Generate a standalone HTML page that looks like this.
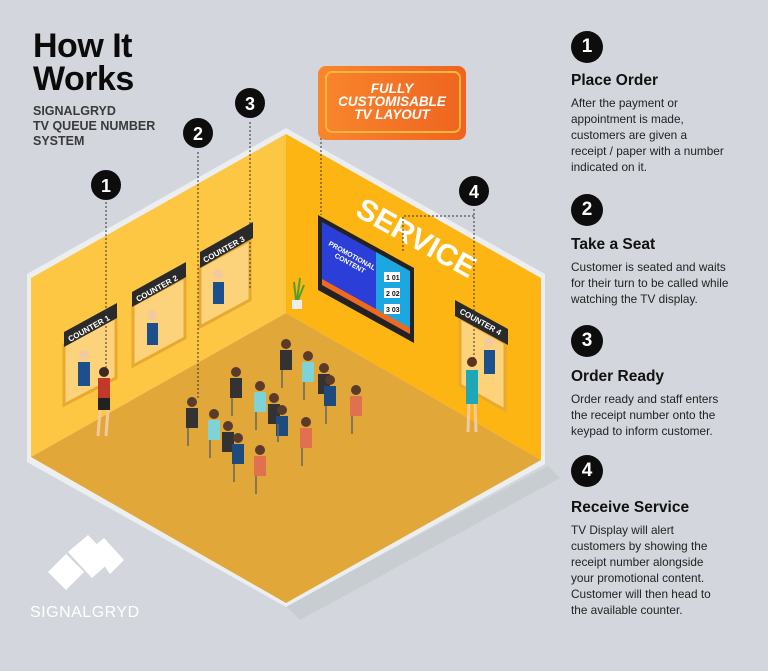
<!DOCTYPE html>
<html><head><meta charset="utf-8"><style>
body{margin:0;width:768px;height:671px;background:#d3d6dc;font-family:"Liberation Sans",Arial,sans-serif;overflow:hidden;position:relative}
.t{position:absolute;left:571px;width:190px;color:#222;font-family:"Liberation Sans",Arial,sans-serif}
.c{position:absolute;left:571px;width:32px;height:32px;border-radius:50%;background:#0d0d0d;color:#fff;font-weight:bold;font-size:19px;text-align:center;line-height:32px;font-family:"Liberation Sans",Arial,sans-serif}
h3{margin:0;font-size:15.5px;line-height:18px;font-weight:bold;color:#111;font-family:"Liberation Sans",Arial,sans-serif}
p{margin:5px 0 0;font-size:11.8px;line-height:16px;color:#222;font-family:"Liberation Sans",Arial,sans-serif}
</style></head><body>
<svg width="768" height="671" style="position:absolute;left:0;top:0;font-family:'Liberation Sans',Arial,sans-serif">
<defs><linearGradient id="og" x1="0" x2="1"><stop offset="0" stop-color="#f9862c"/><stop offset="1" stop-color="#ee6420"/></linearGradient></defs>
<polygon points="286,606 548,466 560,478 300,620" fill="#c2c6cc" opacity=".6"/>
<polygon points="27,274 286,128 545,274 545,464 286,607 27,462" fill="#eceef0"/>
<polygon points="31,278 286,134 286,313 31,457" fill="#fdc643"/>
<polygon points="286,134 541,278 541,460 286,313" fill="#fdb514"/>
<polygon points="31,457 286,313 541,460 286,603" fill="#e1a738"/>
<g fill="#fcd37a" stroke="#e8a930" stroke-width="3">
<polygon points="64,345 116,317 116,378 64,405"/>
<polygon points="133,305 185,277 185,338 133,366"/>
<polygon points="200,267 250,240 250,300 200,327"/>
</g>
<g fill="#2a2a2a">
<polygon points="64,332 117,303 117,318 64,347"/>
<polygon points="132,292 186,262 186,277 132,307"/>
<polygon points="200,252 253,222 253,238 200,268"/>
</g>
<g fill="#fff" font-size="8" font-weight="bold">
<text transform="translate(70,342) rotate(-29)">COUNTER 1</text>
<text transform="translate(138,302) rotate(-29)">COUNTER 2</text>
<text transform="translate(205,263) rotate(-29)">COUNTER 3</text>
</g>
<polygon points="460,318 505,343 505,410 460,385" fill="#fcd37a" stroke="#e8a930" stroke-width="3"/>
<polygon points="455,300 508,329 508,345 455,316" fill="#2a2a2a"/>
<text transform="translate(459,313) rotate(29)" fill="#fff" font-size="8" font-weight="bold">COUNTER 4</text>
<g fill="#1d4f8c"><rect x="78" y="362" width="12" height="24"/><rect x="147" y="323" width="11" height="22"/><rect x="213" y="282" width="11" height="22"/><rect x="484" y="350" width="11" height="24"/></g>
<g fill="#f2c9a0"><circle cx="84" cy="355" r="5"/><circle cx="152" cy="315" r="5"/><circle cx="218" cy="274" r="5"/><circle cx="489" cy="342" r="5"/></g>
<polygon points="318,215 414,268 414,343 318,290" fill="#222"/>
<polygon points="322,222 376,252 376,315 322,285" fill="#2b3ed8"/>
<polygon points="376,252 410,271 410,334 376,315" fill="#1da7e0"/>
<polygon points="322,279 410,328 410,334 322,285" fill="#f0691f"/>
<text transform="translate(328,245) rotate(29)" fill="#fff" font-size="7" font-weight="bold">PROMOTIONAL</text>
<text transform="translate(334,257) rotate(29)" fill="#fff" font-size="7" font-weight="bold">CONTENT</text>
<g fill="#fff"><rect x="384" y="272" width="16" height="10"/><rect x="384" y="288" width="16" height="10"/><rect x="384" y="304" width="16" height="10"/></g>
<g font-size="7" font-weight="bold" fill="#111"><text x="386" y="280">1 01</text><text x="386" y="296">2 02</text><text x="386" y="312">3 03</text></g>
<text transform="translate(354,215) rotate(29)" fill="#fff" font-size="30" font-weight="bold">SERVICE</text>
<path d="M296 300 L294 282 M297 300 L300 278 M298 300 L304 285" stroke="#5a9b2f" stroke-width="2"/>
<rect x="292" y="300" width="10" height="9" fill="#eee"/>
<rect x="98" y="378" width="12" height="22" fill="#c0392b"/><rect x="98" y="398" width="12" height="12" fill="#222"/><circle cx="104" cy="372" r="5" fill="#3a2a22"/><path d="M100 410 L98 436 M108 410 L106 436" stroke="#f2c9a0" stroke-width="3"/>
<rect x="466" y="370" width="12" height="34" fill="#1fa7b7"/><circle cx="472" cy="362" r="5" fill="#5a3222"/><path d="M469 404 L468 432 M475 404 L476 432" stroke="#f2c9a0" stroke-width="3"/>
<g>
<g fill="#333"><rect x="186" y="408" width="12" height="20"/><rect x="230" y="378" width="12" height="20"/><rect x="280" y="350" width="12" height="20"/><rect x="222" y="432" width="12" height="20"/><rect x="268" y="404" width="12" height="20"/><rect x="318" y="374" width="12" height="20"/></g>
<g fill="#7fd3d6"><rect x="208" y="420" width="12" height="20"/><rect x="254" y="392" width="12" height="20"/><rect x="302" y="362" width="12" height="20"/></g>
<g fill="#1f4a7e"><rect x="232" y="444" width="12" height="20"/><rect x="276" y="416" width="12" height="20"/><rect x="324" y="386" width="12" height="20"/></g>
<g fill="#e07050"><rect x="254" y="456" width="12" height="20"/><rect x="300" y="428" width="12" height="20"/><rect x="350" y="396" width="12" height="20"/></g>
<g fill="#5a3a2a"><circle cx="192" cy="402" r="5"/><circle cx="214" cy="414" r="5"/><circle cx="238" cy="438" r="5"/><circle cx="260" cy="450" r="5"/><circle cx="236" cy="372" r="5"/><circle cx="260" cy="386" r="5"/><circle cx="228" cy="426" r="5"/><circle cx="274" cy="398" r="5"/><circle cx="282" cy="410" r="5"/><circle cx="306" cy="422" r="5"/><circle cx="286" cy="344" r="5"/><circle cx="308" cy="356" r="5"/><circle cx="324" cy="368" r="5"/><circle cx="330" cy="380" r="5"/><circle cx="356" cy="390" r="5"/></g>
<g stroke="#666" stroke-width="1.5"><path d="M188 428 L188 446 M210 440 L210 458 M234 464 L234 482 M256 476 L256 494 M232 398 L232 416 M256 412 L256 430 M278 424 L278 442 M302 448 L302 466 M282 370 L282 388 M304 382 L304 400 M326 406 L326 424 M352 416 L352 434"/></g>
</g>
<g stroke="#333" stroke-width="1" stroke-dasharray="2,2" fill="none">
<path d="M106 198 V370"/><path d="M198 148 V400"/><path d="M250 118 V290"/><path d="M321 110 V215"/><path d="M474 205 V360"/><path d="M474 216 H403 V252"/>
</g>
<g fill="#0d0d0d" stroke="#d3d6dc" stroke-width="2"><circle cx="106" cy="185" r="16"/><circle cx="198" cy="133" r="16"/><circle cx="250" cy="103" r="16"/><circle cx="474" cy="191" r="16"/></g>
<g fill="#fff" font-size="18" font-weight="bold" text-anchor="middle"><text x="106" y="192">1</text><text x="198" y="140">2</text><text x="250" y="110">3</text><text x="474" y="198">4</text></g>
<rect x="318" y="66" width="148" height="74" rx="8" fill="url(#og)"/>
<rect x="326" y="72" width="134" height="60" rx="6" fill="none" stroke="#fcb43e" stroke-width="2"/>
<g fill="#fff" font-size="13.5" font-weight="bold" font-style="italic" text-anchor="middle"><text x="392" y="93">FULLY</text><text x="392" y="106">CUSTOMISABLE</text><text x="392" y="119">TV LAYOUT</text></g>
<g fill="#fff"><polygon points="48,572 66,554 84,572 66,590"/><polygon points="68,552 88,535 112,560 92,578"/><polygon points="92,548 104,538 124,560 110,574"/></g>
<text x="30" y="617" fill="#fff" font-size="16" letter-spacing="0.5">SIGNALGRYD</text>
</svg>
<div style="position:absolute;left:33px;top:30px;font-size:34px;font-weight:bold;line-height:33px;color:#0b0b0b;letter-spacing:-0.5px">How It<br>Works</div>
<div style="position:absolute;left:33px;top:104px;font-size:12.5px;font-weight:bold;line-height:15px;color:#3a3a3a">SIGNALGRYD<br>TV QUEUE NUMBER<br>SYSTEM</div>
<div class="c" style="top:31px">1</div>
<div class="t" style="top:72px"><h3>Place Order</h3><p>After the payment or<br>appointment is made,<br>customers are given a<br>receipt / paper with a number<br>indicated on it.</p></div>
<div class="c" style="top:194px">2</div>
<div class="t" style="top:236px"><h3>Take a Seat</h3><p>Customer is seated and waits<br>for their turn to be called while<br>watching the TV display.</p></div>
<div class="c" style="top:325px">3</div>
<div class="t" style="top:368px"><h3>Order Ready</h3><p>Order ready and staff enters<br>the receipt number onto the<br>keypad to inform customer.</p></div>
<div class="c" style="top:455px">4</div>
<div class="t" style="top:499px"><h3>Receive Service</h3><p>TV Display will alert<br>customers by showing the<br>receipt number alongside<br>your promotional content.<br>Customer will then head to<br>the available counter.</p></div>
</body></html>
